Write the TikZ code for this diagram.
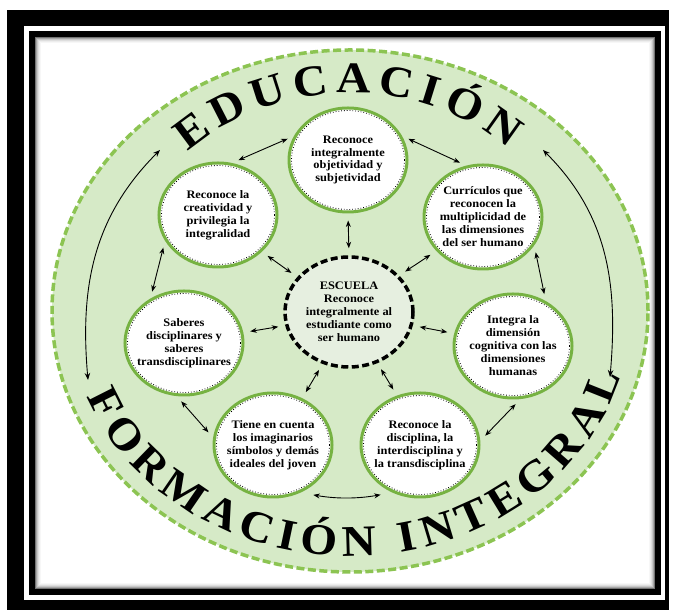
\documentclass[tikz,border=0pt]{standalone}
\usepackage{fontspec}
\newfontfamily\bubfont{Liberation Serif}[FakeStretch=1.08]
\usetikzlibrary{shapes.geometric,arrows.meta,decorations.text}
\definecolor{ringfill}{RGB}{214,234,199}
\definecolor{ringdash}{RGB}{140,196,82}
\definecolor{bubline}{RGB}{118,178,66}
\definecolor{centfill}{RGB}{230,239,224}
\newcommand\bubtext{\bubfont\bfseries\fontsize{11.5}{13}\selectfont}
\newcommand\ringtext{\bubfont\bfseries\fontsize{44}{44}\selectfont}
\tikzset{
  bub/.style={ellipse, draw=bubline, line width=3bp, fill=white,
    inner xsep=-12bp, inner ysep=-10bp, minimum width=118bp, minimum height=104bp,
    align=center, font=\bubtext},
  cen/.style={ellipse, draw=black, line width=3.5bp, dash pattern=on 7bp off 3.5bp,
    fill=centfill, inner xsep=-12bp, inner ysep=-10bp, minimum width=128bp,
    minimum height=110bp, align=center, font=\bubtext},
  innerdot/.style={black, line width=0.8bp, dotted},
  dbl/.style={{Stealth[length=6.5bp,width=5bp]}-{Stealth[length=6.5bp,width=5bp]},
    line width=0.9bp, black, shorten <=7bp, shorten >=7bp},
  bigarc/.style={{Stealth[length=7bp,width=5.5bp]}-{Stealth[length=7bp,width=5.5bp]},
    line width=0.9bp, black},
}
\begin{document}
\begin{tikzpicture}[x=1bp,y=1bp]
\useasboundingbox (0,0) rectangle (674,610);
\fill[white] (0,0) rectangle (674,610);
% frame
\fill[black] (7,0) rectangle (669,600);
\fill[white] (24,10) rectangle (665,584);
\fill[black] (29,15) rectangle (661,579);
\fill[white] (35,21) rectangle (655,573);
\foreach \i/\c in {0/55,1/35,2/22,3/13,4/7,5/3}
  \draw[black!\c, line width=1bp] (35.5+\i,21.5+\i) rectangle (654.5-\i,572.5-\i);
% ring
\draw[ringdash, fill=ringfill, line width=3.5bp, dash pattern=on 8bp off 3.5bp]
  (350,299) ellipse [x radius=298, y radius=261];
% ring texts
\path[decorate, decoration={text along path, text align={fit to path},
  text={|\ringtext|EDUCACIÓN}}]
  (350,299) ++(133:238 and 218) arc[start angle=133, end angle=48, x radius=238, y radius=218];
\path[decorate, decoration={text along path, text align={fit to path},
  text={|\ringtext|FORMACIÓN INTEGRAL}}]
  (350,299) ++(200.5:281 and 245) arc[start angle=200.5, end angle=344.5, x radius=281, y radius=245];
% bubbles
\node[bub] (nT)  at (348,450) {Reconoce\\integralmente\\objetividad y\\subjetividad};
\node[bub] (nUL) at (218,395) {Reconoce la\\creatividad y\\privilegia la\\integralidad};
\node[bub] (nUR) at (483,393) {Currículos que\\reconocen la\\multiplicidad de\\las dimensiones\\del ser humano};
\node[bub] (nL)  at (184,267) {Saberes\\disciplinares y\\saberes\\transdisciplinares};
\node[bub] (nR)  at (513,264) {Integra la\\dimensión\\cognitiva con las\\dimensiones\\humanas};
\node[bub] (nBL) at (273,165) {Tiene en cuenta\\los imaginarios\\símbolos y demás\\ideales del joven};
\node[bub] (nBR) at (420,165) {Reconoce la\\disciplina, la\\interdisciplina y\\la transdisciplina};
\node[cen] (nC)  at (349,298) {ESCUELA\\Reconoce\\integralmente al\\estudiante como\\ser humano};
\foreach \n in {nT,nUL,nUR,nL,nR,nBL,nBR}
  \draw[innerdot] (\n.center) ellipse [x radius=56.5, y radius=49.5];
% connectors
\draw[dbl] (nUL.75) -- (nT.156);
\draw[dbl] (nT.24) -- (nUR.108);
\draw[dbl] (nT.270) -- (nC.90);
\draw[dbl] (nUL.320) -- (nC.146);
\draw[dbl] (nUR.216) -- (nC.36);
\draw[dbl] (nUL.206) -- (nL.127);
\draw[dbl] (nUR.331) -- (nR.54);
\draw[dbl] (nL.10) -- (nC.192);
\draw[dbl] (nC.348) -- (nR.168);
\draw[dbl] (nC.243) -- (nBL.58);
\draw[dbl] (nC.299) -- (nBR.115);
\draw[dbl] (nL.262) -- (nBL.173);
\draw[dbl] (nR.278) -- (nBR.4);
\draw[dbl, shorten <=13bp, shorten >=12bp] (nBL.300) to[bend right=10] (nBR.240);
% big arcs
\coordinate (eduL) at (160,460);
\coordinate (forL) at (88,230);
\coordinate (eduR) at (543,460);
\coordinate (forR) at (610,233);
\draw[bigarc] (eduL) to[out=225, in=95] (forL);
\draw[bigarc] (eduR) to[out=-45, in=85] (forR);
\end{tikzpicture}
\end{document}
